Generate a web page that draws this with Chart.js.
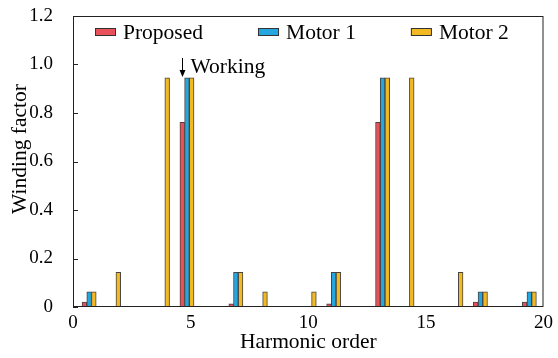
<!DOCTYPE html>
<html lang="en">
<head>
  <meta charset="UTF-8">
  <title>Winding factor vs harmonic order</title>
  <script src="https://cdn.jsdelivr.net/npm/chart.js"></script>
  <style>
    body { margin: 0; padding: 0; background: #fff; }
    #wrap { width: 558px; height: 358px; }
  </style>
</head>
<body>
  <div id="wrap"><canvas id="kwChart"></canvas></div>
  <script>
    // data
    const harmonics = [1, 2, 4, 5, 7, 8, 10, 11, 13, 14, 16, 17, 19];
    const proposed = [0.02, null, null, 0.762, 0.013, null, null, 0.013, 0.762, null, null, 0.02, 0.02];
    const motor1 = [0.063, null, null, 0.945, 0.143, null, null, 0.143, 0.945, null, null, 0.063, 0.063];
    const motor2 = [0.063, 0.143, 0.945, 0.945, 0.143, 0.063, 0.063, 0.143, 0.945, 0.945, 0.143, 0.063, 0.063];
    const seriesNames = ['Proposed', 'Motor 1', 'Motor 2'];
    const xTicks = [0, 5, 10, 15, 20];
    const yTicks = [0, 0.2, 0.4, 0.6, 0.8, 1.0, 1.2];
    const workingOrder = 5;

    const FONT = "'Liberation Serif', 'Times New Roman', serif";
    const colors = ['#e8515a', '#26a6de', '#f3b922'];

    const toPoints = arr => harmonics.map((h, i) => ({ x: h, y: arr[i] }));

    // frame, inward ticks, y title, legend and "Working" label
    const extras = {
      id: 'extras',
      afterDatasetsDraw(chart) {
        const { ctx, chartArea: a, scales } = chart;
        ctx.save();
        ctx.strokeStyle = '#222';
        ctx.lineWidth = 1;
        ctx.strokeRect(a.left + 0.5, a.top + 0.5, a.right - a.left - 1, a.bottom - a.top - 1);
        scales.y.ticks.forEach(t => {
          const y = Math.round(scales.y.getPixelForValue(t.value)) + 0.5;
          ctx.beginPath();
          ctx.moveTo(a.left, y);
          ctx.lineTo(a.left + 5, y);
          ctx.stroke();
        });

        ctx.font = '21.5px ' + FONT;
        ctx.fillStyle = '#000';

        // y axis title
        ctx.save();
        ctx.translate(20, 149);
        ctx.rotate(-Math.PI / 2);
        ctx.textAlign = 'center';
        ctx.textBaseline = 'middle';
        ctx.fillText('Winding factor', 0, 0);
        ctx.restore();

        // legend inside the plot
        ctx.textBaseline = 'middle';
        let lx = 95;
        const ly = 32;
        chart.data.datasets.forEach(ds => {
          ctx.fillStyle = ds.backgroundColor;
          ctx.fillRect(lx, ly - 4, 21, 8);
          ctx.strokeStyle = '#333';
          ctx.strokeRect(lx + 0.5, ly - 3.5, 20, 7);
          ctx.fillStyle = '#000';
          ctx.fillText(ds.label, lx + 28, ly + 1);
          lx += 28 + ctx.measureText(ds.label).width + 55;
        });

        // working harmonic marker above the proposed bar
        const meta = chart.getDatasetMeta(0);
        const idx = harmonics.indexOf(workingOrder);
        const bx = Math.round(meta.data[idx].x) + 0.5;
        ctx.strokeStyle = '#000';
        ctx.beginPath();
        ctx.moveTo(bx, 58);
        ctx.lineTo(bx, 71);
        ctx.stroke();
        ctx.beginPath();
        ctx.moveTo(bx - 3, 70);
        ctx.lineTo(bx + 3, 70);
        ctx.lineTo(bx, 77);
        ctx.closePath();
        ctx.fill();
        ctx.textBaseline = 'alphabetic';
        ctx.fillText('Working', bx + 8, 73);
        ctx.restore();
      }
    };

    const ctx = document.getElementById('kwChart').getContext('2d');
    new Chart(ctx, {
      type: 'bar',
      data: {
        datasets: [proposed, motor1, motor2].map((arr, i) => ({
          label: seriesNames[i],
          data: toPoints(arr),
          backgroundColor: colors[i],
          borderColor: '#444',
          borderWidth: 1,
          xAxisID: 'h',
          yAxisID: 'y'
        }))
      },
      options: {
        responsive: true,
        maintainAspectRatio: false,
        animation: false,
        layout: { padding: { top: 16, right: 14, left: 0, bottom: 0 } },
        datasets: { bar: { barThickness: 4.7 } },
        plugins: { legend: { display: false }, tooltip: { enabled: false } },
        scales: {
          h: {
            type: 'linear',
            position: 'bottom',
            display: false,
            offset: false,
            min: 0.34,
            max: 19.58
          },
          x: {
            type: 'linear',
            position: 'bottom',
            offset: false,
            min: 0,
            max: 20,
            afterBuildTicks: s => { s.ticks = xTicks.map(v => ({ value: v })); },
            grid: { display: false, drawTicks: false, offset: false },
            border: { display: false },
            ticks: { color: '#000', font: { family: FONT, size: 19 }, padding: 5, maxRotation: 0 },
            title: { display: true, text: 'Harmonic order', color: '#000', font: { family: FONT, size: 21.5 }, padding: { top: 0, bottom: 3 } },
            afterFit: s => { s.height = 51; }
          },
          y: {
            type: 'linear',
            min: 0,
            max: 1.2,
            afterBuildTicks: s => { s.ticks = yTicks.map(v => ({ value: v })); },
            grid: { display: false, drawTicks: false },
            border: { display: false },
            ticks: {
              color: '#000',
              font: { family: FONT, size: 19 },
              padding: 20,
              callback: v => v === 0 ? '0' : v.toFixed(1)
            },
            afterFit: s => { s.width = 73; s.paddingTop = 0; s.paddingBottom = 0; }
          }
        }
      },
      plugins: [extras]
    });
  </script>
</body>
</html>
